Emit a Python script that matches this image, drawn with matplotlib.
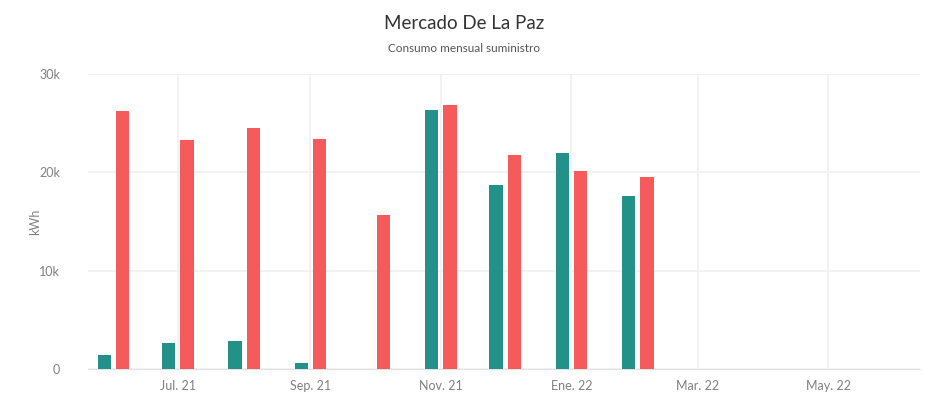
import datetime as dt
import matplotlib.pyplot as plt
from matplotlib.ticker import FuncFormatter

plt.rcParams['font.family'] = ['Lato', 'DejaVu Sans']

# consumo mensual (kWh)
meses = ['2021-06', '2021-07', '2021-08', '2021-09', '2021-10',
         '2021-11', '2021-12', '2022-01', '2022-02']
serie_a = [1400, 2650, 2850, 600, None, 26300, 18700, 22000, 17600]
serie_b = [26200, 23300, 24500, 23400, 15700, 26800, 21800, 20100, 19500]

ticks = ['2021-07', '2021-09', '2021-11', '2022-01', '2022-03', '2022-05']
tick_labels = ['Jul. 21', 'Sep. 21', 'Nov. 21', 'Ene. 22', 'Mar. 22', 'May. 22']

col_a = '#23918a'
col_b = '#f65b5b'
gris = '#808080'

fechas = [dt.datetime.strptime(m, '%Y-%m') for m in meses]
desp = dt.timedelta(days=4.3)

fig = plt.figure(figsize=(9.29, 3.96), dpi=100)
ax = fig.add_axes([88 / 929, 27 / 396, 832 / 929, 295 / 396])

xa = [f - desp for f, v in zip(fechas, serie_a) if v is not None]
ya = [v for v in serie_a if v is not None]
ax.bar(xa, ya, width=6.2, color=col_a, zorder=3)
ax.bar([f + desp for f in fechas], serie_b, width=6.2, color=col_b, zorder=3)

ax.set_xlim(dt.datetime(2021, 5, 20), dt.datetime(2022, 6, 13))
ax.set_ylim(0, 30000)
ax.set_yticks([0, 10000, 20000, 30000])
ax.yaxis.set_major_formatter(FuncFormatter(lambda v, p: '0' if v == 0 else f'{int(v/1000)}k'))
ax.set_xticks([dt.datetime.strptime(t, '%Y-%m') for t in ticks])
ax.set_xticklabels(tick_labels)

ax.grid(True, color='#f0f0f0', linewidth=1.2, zorder=0)
for s in ['top', 'right', 'left']:
    ax.spines[s].set_visible(False)
ax.spines['bottom'].set_color('#e2e2e2')
ax.tick_params(axis='both', length=0, labelsize=9, labelcolor=gris, pad=8)
ax.tick_params(axis='y', pad=20)
ax.set_ylabel('kWh', fontsize=9, color=gris, labelpad=-1)

fig.text(0.5, 0.94, 'Mercado De La Paz', ha='center', va='center', fontsize=13.5,
         color='#333333')
fig.text(0.5, 0.878, 'Consumo mensual suministro', ha='center', va='center', fontsize=8.5,
         color='#555555')

fig.savefig('out.png', dpi=100, facecolor='white')
